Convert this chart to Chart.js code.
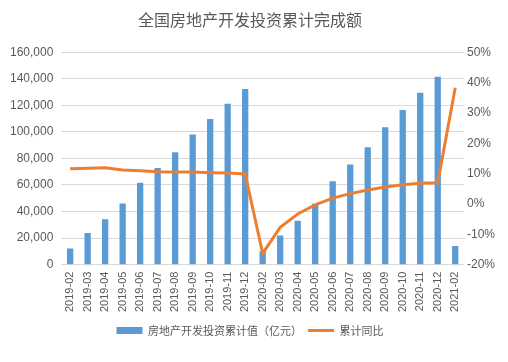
<!DOCTYPE html>
<html>
<head>
<meta charset="utf-8">
<script src="https://cdn.jsdelivr.net/npm/chart.js@4/dist/chart.umd.min.js"></script>
<style>
  html, body { margin: 0; padding: 0; background: #fff; }
  #wrap { width: 508px; height: 362px; }
</style>
</head>
<body>
<div id="wrap"><canvas id="chart"></canvas></div>
<script>
// 月份
const months = [
    '2019-02', '2019-03', '2019-04', '2019-05', '2019-06', '2019-07',
    '2019-08', '2019-09', '2019-10', '2019-11', '2019-12',
    '2020-02', '2020-03', '2020-04', '2020-05', '2020-06', '2020-07',
    '2020-08', '2020-09', '2020-10', '2020-11', '2020-12',
    '2021-02'
];

// 房地产开发投资累计值（亿元）
const investTotal = [
    12090, 23803, 34217, 46075, 61609, 72843,
    84589, 98008, 109603, 121265, 132194,
    10115, 21963, 33103, 45920, 62780, 75325,
    88454, 103484, 116556, 129492, 141443,
    13986
];

// 累计同比（%）
const yoyRate = [
    11.6, 11.8, 11.9, 11.2, 10.9, 10.6,
    10.5, 10.5, 10.3, 10.2, 9.9,
    -16.3, -7.7, -3.3, -0.3, 1.9, 3.4,
    4.6, 5.6, 6.3, 6.8, 7.0,
    38.3
];

const barColor = '#5B9BD5';
const lineColor = '#ED7D31';
const textColor = '#595959';

new Chart(document.getElementById('chart'), {
    data: {
        labels: months,
        datasets: [
            {
                type: 'line',
                label: '累计同比',
                data: yoyRate,
                yAxisID: 'y1',
                borderColor: lineColor,
                backgroundColor: lineColor,
                borderWidth: 3,
                pointRadius: 0,
                tension: 0,
                order: 0
            },
            {
                type: 'bar',
                label: '房地产开发投资累计值（亿元）',
                data: investTotal,
                yAxisID: 'y',
                backgroundColor: barColor,
                barPercentage: 0.36,
                categoryPercentage: 1,
                order: 1
            }
        ]
    },
    options: {
        responsive: true,
        maintainAspectRatio: false,
        animation: false,
        layout: { padding: { left: 2, right: 10, top: 4, bottom: 16 } },
        plugins: {
            title: {
                display: true,
                text: '全国房地产开发投资累计完成额',
                color: textColor,
                font: { family: '"Noto Sans CJK SC"', size: 16, weight: 'normal' },
                padding: { top: 6, bottom: 23 }
            },
            legend: {
                position: 'bottom',
                reverse: true,
                labels: {
                    color: textColor,
                    font: { family: '"Noto Sans CJK SC"', size: 11 },
                    usePointStyle: true,
                    pointStyleWidth: 26,
                    boxHeight: 7,
                    padding: 6,
                    generateLabels(chart) {
                        return chart.data.datasets.map((ds, i) => ({
                            text: ds.label,
                            fillStyle: ds.type === 'bar' ? barColor : lineColor,
                            strokeStyle: ds.type === 'bar' ? barColor : lineColor,
                            lineWidth: ds.type === 'bar' ? 0 : 3,
                            pointStyle: ds.type === 'bar' ? 'rect' : 'line',
                            fontColor: textColor,
                            hidden: false,
                            datasetIndex: i
                        }));
                    }
                }
            },
            tooltip: { enabled: false }
        },
        scales: {
            x: {
                grid: { display: false, drawTicks: false },
                border: { display: true, color: '#D9D9D9' },
                ticks: {
                    color: textColor,
                    font: { family: '"Liberation Sans"', size: 11 },
                    maxRotation: 90,
                    minRotation: 90,
                    autoSkip: false,
                    padding: 7
                }
            },
            y: {
                position: 'left',
                min: 0,
                max: 160000,
                grid: { color: '#D9D9D9', drawTicks: false },
                border: { display: false },
                ticks: {
                    stepSize: 20000,
                    color: textColor,
                    font: { family: '"Liberation Sans"', size: 12 },
                    padding: 8,
                    callback: v => v.toLocaleString('en-US')
                }
            },
            y1: {
                position: 'right',
                min: -20,
                max: 50,
                grid: { display: false, drawTicks: false },
                border: { display: false },
                ticks: {
                    stepSize: 10,
                    color: textColor,
                    font: { family: '"Liberation Sans"', size: 12 },
                    padding: 3,
                    callback: v => v + '%'
                }
            }
        }
    }
});
</script>
</body>
</html>
